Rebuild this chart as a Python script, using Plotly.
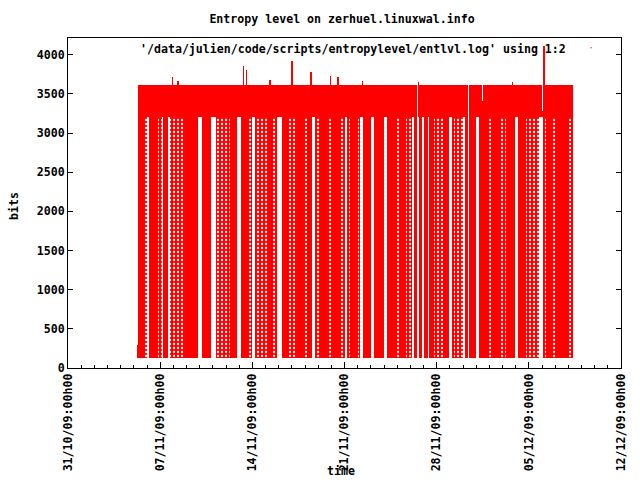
import plotly.graph_objects as go
import pandas as pd

# ---------------- data ----------------
ORIGIN = "2009-10-31 00:00"          # left end of the time axis
AXIS_END = "2009-12-12 00:00"

# time offsets are in days after ORIGIN, values in bits
span_start = 5.349                    # continuous logging period
span_end = 38.371
low_level = 125                       # lowest entropy values seen
band_low = 3200                       # entropy almost always above this
high_level = 3612                     # usual ceiling

first_start, first_end, first_top = 5.25, 5.349, 294

# periods where values cover 125..3200 densely
solid_start = [5.349, 6.163, 7.250, 8.902, 10.196, 12.326, 13.163, 15.217, 16.282,
               17.424, 18.185, 19.174, 20.163, 21.380, 22.369, 23.206, 24.196,
               25.261, 26.250, 26.630, 27.011, 27.391, 28.456, 29.141, 30.130,
               30.434, 31.195, 32.260, 33.250, 34.163, 36.293, 37.054, 38.195]
solid_end = [5.783, 6.848, 7.609, 9.891, 10.880, 12.859, 13.619, 15.598, 16.739,
             17.880, 18.565, 19.706, 20.695, 21.989, 22.978, 23.967, 24.880,
             25.641, 26.478, 26.858, 27.315, 27.771, 28.913, 29.293, 30.358,
             30.967, 31.956, 32.793, 33.934, 34.771, 36.674, 37.967, 38.371]

# periods with no values below band_low
gap_start = [6.011, 7.128, 7.609, 9.891, 10.880, 12.859, 14.000, 15.902, 18.565,
             21.000, 22.141, 22.978, 23.967, 26.100, 26.478, 26.858, 27.315,
             28.913, 29.978, 30.358, 30.967, 33.934, 35.760]
gap_end = [6.163, 7.250, 7.761, 10.196, 11.261, 13.163, 14.228, 16.282, 18.793,
           21.152, 22.369, 23.206, 24.196, 26.250, 26.630, 27.011, 27.391,
           29.141, 30.130, 30.434, 31.195, 34.163, 36.065]

# short interruptions reaching up to the ceiling
cut_start = [26.50, 30.36, 31.42, 35.98]
cut_end = [26.58, 30.43, 31.49, 36.05]
cut_low = [1380, 125, 3410, 3280]

# isolated peaks above the ceiling
spike_day = [7.951, 8.370, 13.315, 13.543, 15.347, 16.998, 18.466, 19.935,
             20.490, 22.369, 26.630, 33.744, 36.141]
spike_top = [3714, 3670, 3863, 3800, 3684, 3927, 3786, 3731, 3722, 3670,
             3650, 3658, 4107]

# ---------------- helpers ----------------
DAY_MS = 86400000.0
org = pd.Timestamp(ORIGIN)


def centers(starts, ends):
    return [org + pd.Timedelta(days=(s + e) / 2.0) for s, e in zip(starts, ends)]


def widths(starts, ends):
    return [(e - s) * DAY_MS for s, e in zip(starts, ends)]


FONT = "DejaVu Sans Mono"
RED = "#ff0000"

fig = go.Figure()

# sparse background over whole logging period
fig.add_trace(go.Bar(
    x=centers([span_start], [span_end]), width=widths([span_start], [span_end]),
    base=[low_level], y=[band_low - low_level],
    marker=dict(color=RED, line_width=0,
                pattern=dict(shape=".", fgcolor="white", bgcolor=RED,
                             size=4, solidity=0.25, fillmode="replace")),
    showlegend=False, hoverinfo="skip"))

# first short readings
fig.add_trace(go.Bar(
    x=centers([first_start], [first_end]), width=widths([first_start], [first_end]),
    base=[low_level], y=[first_top - low_level],
    marker=dict(color=RED, line_width=0), showlegend=False, hoverinfo="skip"))

# dense periods
fig.add_trace(go.Bar(
    x=centers(solid_start, solid_end), width=widths(solid_start, solid_end),
    base=[low_level] * len(solid_start), y=[band_low - low_level] * len(solid_start),
    marker=dict(color=RED, line_width=0), showlegend=False, hoverinfo="skip"))

# upper band
fig.add_trace(go.Bar(
    x=centers([span_start], [span_end]), width=widths([span_start], [span_end]),
    base=[band_low], y=[high_level - band_low],
    marker=dict(color=RED, line_width=0), showlegend=False, hoverinfo="skip"))

# gaps (white)
fig.add_trace(go.Bar(
    x=centers(gap_start, gap_end), width=widths(gap_start, gap_end),
    base=[low_level] * len(gap_start), y=[band_low - low_level] * len(gap_start),
    marker=dict(color="white", line_width=0), showlegend=False, hoverinfo="skip"))

fig.add_trace(go.Bar(
    x=centers(cut_start, cut_end), width=widths(cut_start, cut_end),
    base=cut_low, y=[high_level - c for c in cut_low],
    marker=dict(color="white", line_width=0), showlegend=False, hoverinfo="skip"))

# spikes
spike_w = 0.12
fig.add_trace(go.Bar(
    x=[org + pd.Timedelta(days=d) for d in spike_day],
    width=[spike_w * DAY_MS] * len(spike_day),
    base=[3600] * len(spike_day), y=[t - 3600 for t in spike_top],
    marker=dict(color=RED, line_width=0), showlegend=False, hoverinfo="skip"))

# ---------------- layout ----------------
L, R, T, B = 68, 19, 38, 112
PW, PH = 640 - L - R, 480 - T - B


def px_x(px):
    return (px - L) / PW


def px_y(py):
    return (480 - B - py) / PH


fig.update_layout(
    width=640, height=480,
    margin=dict(l=L, r=R, t=T, b=B, autoexpand=False),
    paper_bgcolor="white", plot_bgcolor="white",
    barmode="overlay", bargap=0,
    font=dict(family=FONT, size=11.6, color="black"),
    title=dict(text="<b>Entropy level on zerhuel.linuxwal.info</b>",
               x=px_x(342), xref="paper", xanchor="center",
               y=1 - 19 / 480, yref="container", yanchor="middle",
               font=dict(family=FONT, size=11.6, color="black")),
    showlegend=False,
    hovermode=False,
)

fig.update_xaxes(
    type="date", range=[ORIGIN, AXIS_END], automargin=False,
    tick0=ORIGIN, dtick=7 * DAY_MS, tickformat="<b>%d/%m/%y:%Hh%M</b>",
    tickangle=-90, ticks="inside", ticklen=6, tickcolor="black", tickwidth=1,
    minor=dict(dtick=DAY_MS, ticks="inside", ticklen=3, tickcolor="black"),
    showline=True, linecolor="black", linewidth=1, mirror=True,
    showgrid=False, zeroline=False,
    tickfont=dict(family=FONT, size=11.6, color="black"),
)
fig.update_yaxes(
    range=[0, 4215], dtick=500, tick0=0, automargin=False,
    ticks="inside", ticklen=5, tickcolor="black",
    showline=True, linecolor="black", linewidth=1, mirror="ticks",
    showgrid=False, zeroline=False,
    tickfont=dict(family=FONT, size=11.6, color="black"),
    tickprefix="<b>", ticksuffix="</b>",
)

fig.add_annotation(text="<b>bits</b>", textangle=-90, xref="paper", yref="paper",
                   x=px_x(14), y=px_y(206), showarrow=False,
                   xanchor="center", yanchor="middle")
fig.add_annotation(text="<b>time</b>", xref="paper", yref="paper",
                   x=px_x(341), y=px_y(471), showarrow=False,
                   xanchor="center", yanchor="middle")
fig.add_annotation(text="<b>'/data/julien/code/scripts/entropylevel/entlvl.log' using 1:2</b>",
                   xref="paper", yref="paper", x=px_x(568), y=px_y(49),
                   showarrow=False, xanchor="right", yanchor="middle")
fig.add_shape(type="rect", xref="paper", yref="paper",
              x0=px_x(590.5), x1=px_x(591.8), y0=px_y(48.3), y1=px_y(47.3),
              fillcolor=RED, line_width=0)

fig.write_html("out.html",
               config={"displayModeBar": False, "staticPlot": True},
               post_script="document.body.style.margin='0px';"
                           "document.body.style.overflow='hidden';")
